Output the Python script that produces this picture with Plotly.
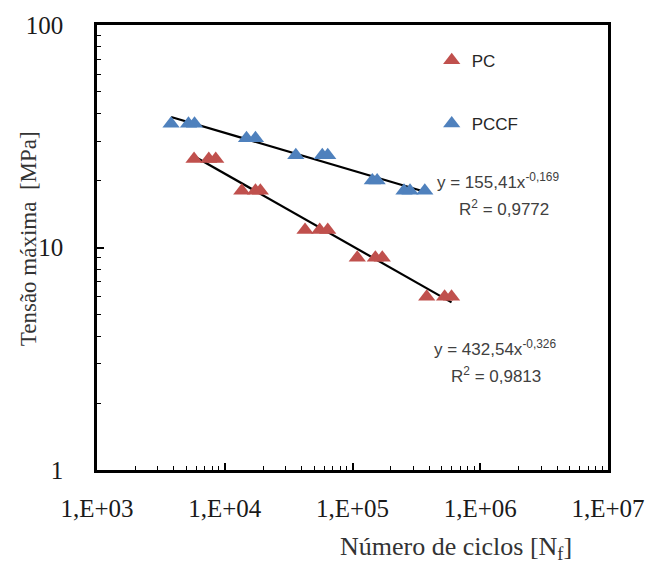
import numpy as np
import plotly.graph_objects as go

# PC data
pc_n = [5750, 7500, 8500, 13600, 17400, 19000, 42500, 55400, 64000, 109000, 151000, 171000, 381000, 526000, 596000]
pc_s = [25, 25, 25, 18, 18, 18, 12, 12, 12, 9, 9, 9, 6, 6, 6]
# PCCF data
pccf_n = [3800, 5200, 5800, 14800, 17400, 36000, 58000, 64000, 143000, 156000, 253000, 282000, 368000]
pccf_s = [36, 36, 36, 31, 31, 26, 26, 26, 20, 20, 18, 18, 18]

# Power-law trendlines y = a x^b
pc_a, pc_b = 432.54, -0.326
pccf_a, pccf_b = 155.41, -0.169

x_ticks = [1e3, 1e4, 1e5, 1e6, 1e7]
x_ticktext = ["1,E+03", "1,E+04", "1,E+05", "1,E+06", "1,E+07"]
y_ticks = [1, 10, 100]
y_ticktext = ["1", "10", "100"]
x_minor = [m * 10 ** e for e in (3, 4, 5, 6) for m in range(2, 10)]
y_minor = [m * 10 ** e for e in (0, 1) for m in range(2, 10)]

RED = "#C0504D"
BLUE = "#4F81BD"

fig = go.Figure()

def trend(xs, a, b):
    xx = np.logspace(np.log10(min(xs)), np.log10(max(xs)), 50)
    return xx, a * xx ** b

tx, ty = trend(pccf_n, pccf_a, pccf_b)
fig.add_trace(go.Scatter(x=tx, y=ty, mode="lines", line=dict(color="black", width=2.2), showlegend=False, hoverinfo="skip"))
tx, ty = trend(pc_n, pc_a, pc_b)
fig.add_trace(go.Scatter(x=tx, y=ty, mode="lines", line=dict(color="black", width=2.2), showlegend=False, hoverinfo="skip"))

fig.add_trace(go.Scatter(x=pc_n, y=pc_s, mode="markers", name="PC", legendgroup="pc",
                         marker=dict(symbol="triangle-up", size=15, color=RED)))
fig.add_trace(go.Scatter(x=pccf_n, y=pccf_s, mode="markers", name="PCCF", legendgroup="pccf",
                         marker=dict(symbol="triangle-up", size=15, color=BLUE)))

serif = "Liberation Serif"
sans = "Liberation Sans"

fig.update_xaxes(type="log", range=[3, 7], tickvals=x_ticks, ticktext=x_ticktext,
                 showline=True, linecolor="black", linewidth=2.5, mirror=True,
                 ticks="inside", ticklen=7, tickwidth=1.5, tickcolor="black",
                 minor=dict(tickmode="array", tickvals=x_minor, ticks="inside", ticklen=4,
                            tickwidth=1.2, tickcolor="black", showgrid=False),
                 showgrid=False, zeroline=False,
                 tickfont=dict(family=serif, size=25, color="#1a1a1a"), ticklabelstandoff=14)
fig.update_yaxes(type="log", range=[0, 2], tickvals=y_ticks, ticktext=y_ticktext,
                 showline=True, linecolor="black", linewidth=2.5, mirror=True,
                 ticks="inside", ticklen=7, tickwidth=1.5, tickcolor="black",
                 minor=dict(tickmode="array", tickvals=y_minor, ticks="inside", ticklen=4,
                            tickwidth=1.2, tickcolor="black", showgrid=False),
                 showgrid=False, zeroline=False,
                 tickfont=dict(family=serif, size=25, color="#1a1a1a"), ticklabelstandoff=26)

L, R, T, B = 97, 44, 24, 98
W, H = 657, 568
pw, ph = W - L - R, H - T - B

def px(xp, yp):
    return (xp - L) / pw, (H - B - yp) / ph

eq_font = dict(family=sans, size=17, color="#404040")
annotations = []
for (xp, yp), txt in [((502, 180), "y = 155,41x<sup>-0,169</sup>"),
                      ((508, 207), "R<sup>2</sup> = 0,9772"),
                      ((499, 348), "y = 432,54x<sup>-0,326</sup>"),
                      ((500, 375), "R<sup>2</sup> = 0,9813")]:
    xx, yy = px(xp, yp)
    annotations.append(dict(x=xx, y=yy, xref="paper", yref="paper", text=txt, showarrow=False,
                            font=eq_font, xanchor="center", yanchor="middle"))

xx, yy = px(460, 548)
annotations.append(dict(x=xx, y=yy, xref="paper", yref="paper", text="Número de ciclos [N<sub>f</sub>]",
                        showarrow=False, xanchor="center", yanchor="middle",
                        font=dict(family=serif, size=26, color="#333333")))
xx, yy = px(28, 238)
annotations.append(dict(x=xx, y=yy, xref="paper", yref="paper",
                        text="Tensão máxima  [MPa]", textangle=-90, showarrow=False,
                        xanchor="center", yanchor="middle",
                        font=dict(family=serif, size=23, color="#333333")))

fig.update_layout(
    width=W, height=H, margin=dict(l=L, r=R, t=T, b=B),
    paper_bgcolor="white", plot_bgcolor="white",
    annotations=annotations,
    legend=dict(x=0.655, y=0.96, xanchor="left", yanchor="top", bgcolor="rgba(0,0,0,0)",
                font=dict(family=sans, size=17, color="#262626"), tracegroupgap=38,
                traceorder="grouped", itemwidth=30),
)

fig.write_html("out.html")
